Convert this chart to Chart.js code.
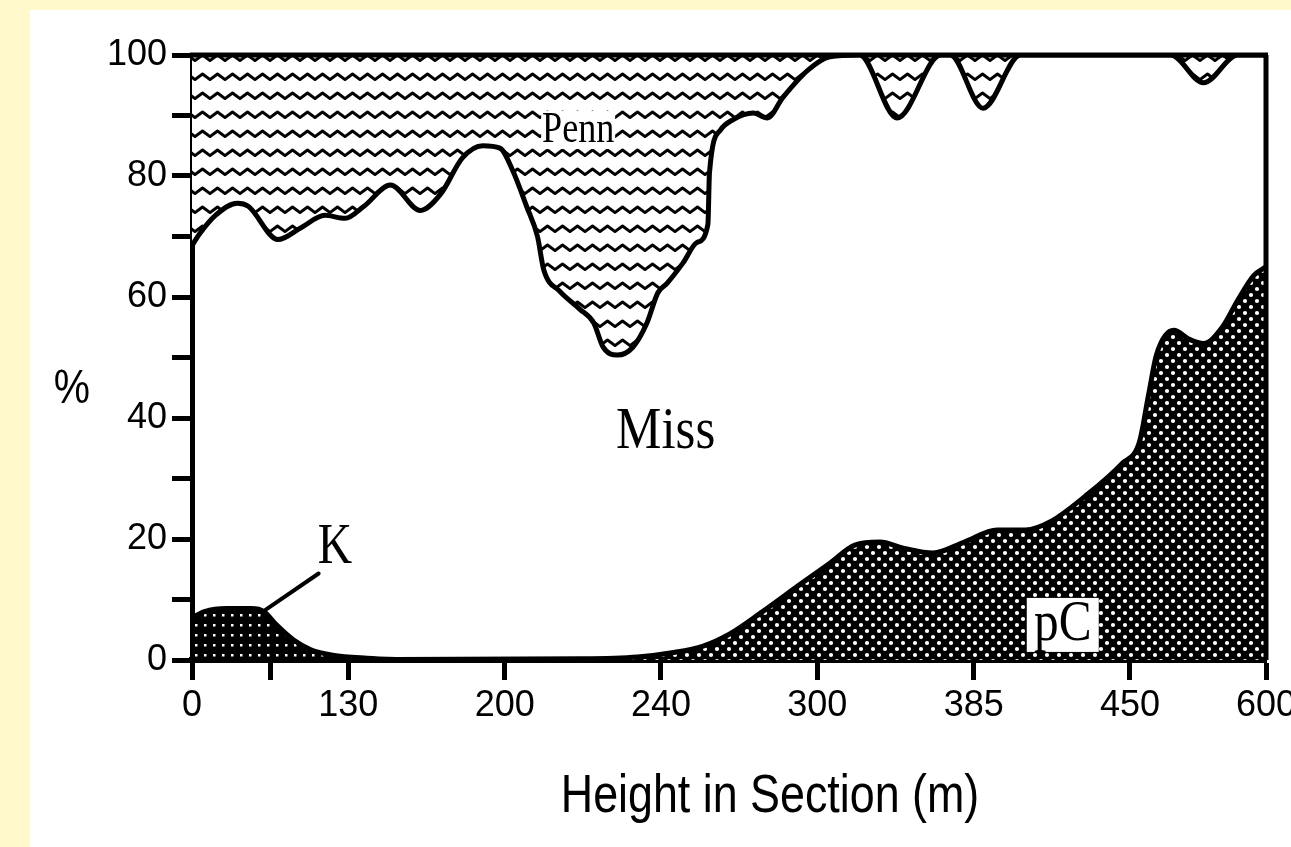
<!DOCTYPE html>
<html>
<head>
<meta charset="utf-8">
<script src="https://cdn.jsdelivr.net/npm/chart.js@4.4.1/dist/chart.umd.min.js"></script>
<style>
  body { margin: 0; background: #fff9cc; }
  #panel { position: absolute; left: 30px; top: 10px; width: 1261px; height: 837px; background: #fff; }
</style>
</head>
<body>
<div id="panel"><canvas id="sectionChart" width="1261" height="837"></canvas></div>
<script>
// x axis: sample stations along the section, labelled with height (m)
const xTickPos = [0, 0.5, 1, 2, 3, 4, 5, 6, 6.87];
const xTickLabels = ['0', '', '130', '200', '240', '300', '385', '450', '600'];

// upper edge of Miss (boundary with Penn), cumulative %
const missX = [0, 0.05, 0.15, 0.29, 0.36, 0.55, 0.70, 0.85, 0.98, 1.10, 1.27, 1.46, 1.59, 1.73, 1.86, 1.97,
  2.05, 2.14, 2.21, 2.25, 2.35, 2.48, 2.57, 2.63, 2.72, 2.82, 2.91, 2.98, 3.04, 3.14, 3.23, 3.30,
  3.31, 3.38, 3.46, 3.59, 3.68, 3.78, 3.94, 4.08, 4.27, 4.51, 4.79, 4.85, 5.06, 5.30, 6.26, 6.47, 6.69, 6.87];
const missTop = [68.5, 70.5, 73.5, 75.5, 75, 69.5, 71.5, 73.5, 73, 75, 78.5, 74.3, 77, 83, 85, 84.6,
  81, 75, 70, 64.5, 61, 58, 55.7, 51.7, 50.4, 51.7, 55.7, 60.7, 62.3, 65.6, 69, 72,
  80.5, 87.6, 89.3, 90.4, 89.6, 93, 97.5, 99.7, 100, 89.6, 100, 100, 91.2, 100, 100, 95.4, 100, 100];

// top of pC (precambrian clasts), %
const pcX = [0, 2.50, 2.85, 3.07, 3.27, 3.44, 3.65, 3.89, 4.08, 4.24, 4.40, 4.55, 4.74, 4.94, 5.15, 5.33,
  5.50, 5.71, 5.95, 6.06, 6.12, 6.17, 6.28, 6.38, 6.47, 6.59, 6.69, 6.79, 6.87];
const pcTop = [0, 0.2, 0.5, 1.2, 2.3, 4.3, 8, 12.5, 16, 19, 19.5, 18.5, 17.7, 19.5, 21.5, 21.5,
  23, 27, 32.5, 36, 44, 50.5, 54.5, 53, 52.3, 55, 59.5, 63.5, 65];

// top of K (cretaceous clasts), %
const kX = [0, 0.08, 0.22, 0.38, 0.46, 0.54, 0.65, 0.76, 0.90, 1.12, 1.40];
const kTop = [7, 8, 8.5, 8.5, 8, 5.8, 3.3, 1.7, 0.8, 0.3, 0];

const toPoints = (xs, ys) => xs.map((x, i) => ({ x: x, y: ys[i] }));

function makePattern(w, h, draw) {
  const c = document.createElement('canvas');
  c.width = w; c.height = h;
  const g = c.getContext('2d');
  draw(g, w, h);
  return g.createPattern(c, 'repeat');
}

// wavy lines for Penn
const wavyFill = makePattern(15, 19, (g, w, h) => {
  g.fillStyle = '#fff'; g.fillRect(0, 0, w, h);
  g.strokeStyle = '#000'; g.lineWidth = 3; g.lineJoin = 'round';
  g.beginPath();
  g.moveTo(-7.5, 7); g.lineTo(0, 12.5); g.lineTo(7.5, 7); g.lineTo(15, 12.5); g.lineTo(22.5, 7);
  g.stroke();
});
// cross-hatch for pC
const crossFill = makePattern(12, 12, (g, w, h) => {
  g.fillStyle = '#000'; g.fillRect(0, 0, w, h);
  g.fillStyle = '#fff';
  [[3, 3], [9, 9]].forEach(([x, y]) => { g.beginPath(); g.arc(x, y, 2.1, 0, Math.PI * 2); g.fill(); });
});
// fine dots for K
const dotFill = makePattern(9, 10, (g, w, h) => {
  g.fillStyle = '#000'; g.fillRect(0, 0, w, h);
  g.fillStyle = '#fff'; g.fillRect(3, 4, 2.5, 2.5);
});

const sans = "'Liberation Sans', Arial, sans-serif";
const serif = "'Liberation Serif', 'Times New Roman', serif";

// labels, frame and axis texts
const annotate = {
  id: 'annotate',
  afterDatasetsDraw(chart) {
    const { ctx, chartArea: a } = chart;
    ctx.save();
    ctx.strokeStyle = '#000';
    ctx.lineWidth = 5;
    ctx.beginPath();
    ctx.moveTo(a.left - 2, a.top); ctx.lineTo(a.right + 2, a.top);
    ctx.moveTo(a.right, a.top); ctx.lineTo(a.right, a.bottom);
    ctx.stroke();
    ctx.restore();
  },
  afterDraw(chart) {
    const { ctx } = chart;
    const xs = chart.scales.x, ys = chart.scales.y;
    const px = v => xs.getPixelForValue(v), py = v => ys.getPixelForValue(v);
    ctx.save();
    ctx.textAlign = 'center';
    ctx.textBaseline = 'middle';

    // K pointer
    ctx.strokeStyle = '#000'; ctx.lineWidth = 4; ctx.lineCap = 'round';
    ctx.beginPath();
    ctx.moveTo(px(0.81), py(14.3)); ctx.lineTo(px(0.47), py(8.3));
    ctx.stroke();

    // white backing for pC and Penn
    ctx.fillStyle = '#fff';
    ctx.fillRect(px(5.57) - 36, py(5.8) - 27, 72, 54);
    ctx.fillRect(px(2.47) - 37, py(87.6) - 19, 74, 38);

    const text = (t, x, y, font, sx) => {
      ctx.save();
      ctx.translate(x, y);
      ctx.scale(sx, 1);
      ctx.fillStyle = '#000';
      ctx.font = font;
      ctx.fillText(t, 0, 0);
      ctx.restore();
    };
    text('Penn', px(2.47), py(87.6), '44px ' + serif, 0.82);
    text('Miss', px(3.03), py(37.7), '60px ' + serif, 0.85);
    text('K', px(0.915), py(18.5), '56px ' + serif, 0.85);
    text('pC', px(5.57), py(5.8), '58px ' + serif, 0.85);

    text('%', 42, 380, '48px ' + sans, 0.85);
    text('Height in Section (m)', 740, 787, '54px ' + sans, 0.83);
    ctx.restore();
  }
};

const lineStyle = { borderColor: '#000', borderWidth: 5, pointRadius: 0, cubicInterpolationMode: 'monotone' };

new Chart(document.getElementById('sectionChart'), {
  type: 'line',
  data: {
    datasets: [
      Object.assign({ label: 'Penn', data: toPoints(missX, missTop), fill: 'end', backgroundColor: wavyFill }, lineStyle),
      Object.assign({ label: 'pC', data: toPoints(pcX, pcTop), fill: 'origin', backgroundColor: crossFill }, lineStyle),
      Object.assign({ label: 'K', data: toPoints(kX, kTop), fill: 'origin', backgroundColor: dotFill }, lineStyle)
    ]
  },
  options: {
    responsive: false,
    animation: false,
    layout: { padding: { top: 45, right: 25, left: 0, bottom: 0 } },
    plugins: { legend: { display: false }, tooltip: { enabled: false } },
    scales: {
      x: {
        type: 'linear', min: 0, max: 6.87,
        afterBuildTicks: s => { s.ticks = xTickPos.map(v => ({ value: v })); },
        afterFit: s => { s.height = 187; s.paddingLeft = 0; s.paddingRight = 0; },
        ticks: { callback: (v, i) => xTickLabels[i], color: '#000', font: { family: sans, size: 36 }, padding: 4, maxRotation: 0, autoSkip: false },
        grid: { drawOnChartArea: false, tickLength: 20, tickWidth: 5, tickColor: '#000' },
        border: { color: '#000', width: 6 }
      },
      y: {
        min: 0, max: 100,
        afterFit: s => { s.width = 162; s.paddingTop = 0; s.paddingBottom = 0; },
        ticks: { stepSize: 10, callback: v => (v % 20 === 0 ? v : ''), color: '#000', font: { family: sans, size: 36 }, padding: 5 },
        grid: { drawOnChartArea: false, tickLength: 20, tickWidth: 5, tickColor: '#000' },
        border: { color: '#000', width: 5 }
      }
    }
  },
  plugins: [annotate]
});
</script>
</body>
</html>
